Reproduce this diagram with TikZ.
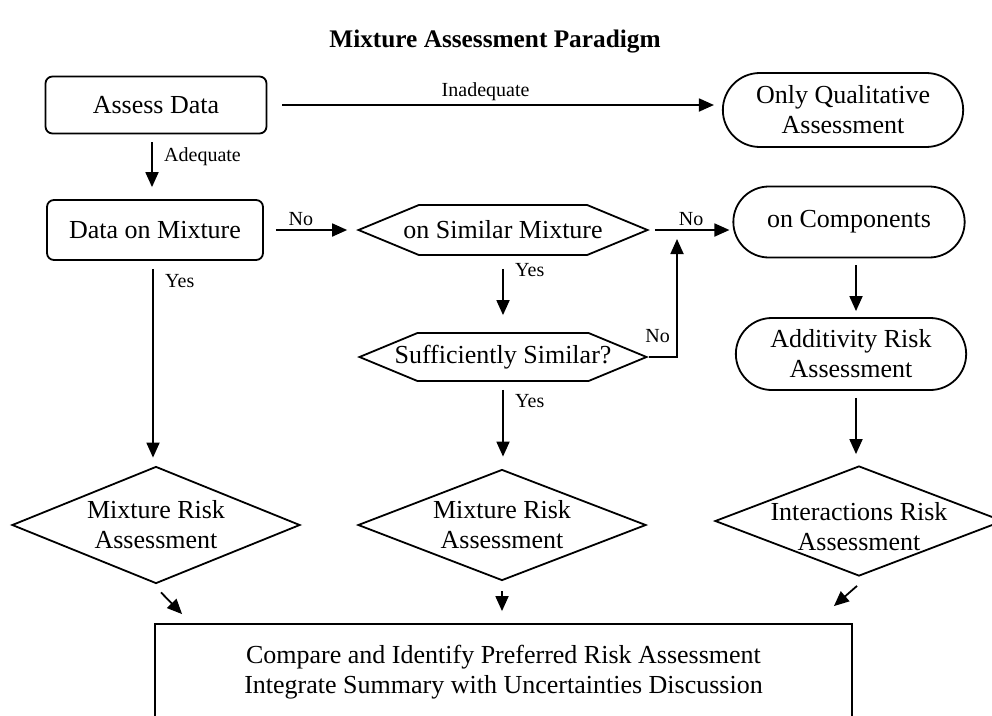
\documentclass[tikz,border=0pt]{standalone}
\usepackage{fontspec}
\setmainfont{Liberation Serif}
\usetikzlibrary{shapes.geometric, shapes.misc, shapes.symbols, arrows.meta}

\begin{document}
\begin{tikzpicture}[x=1pt, y=-1pt, line width=1.8pt,
  every node/.style={font=\fontsize{26}{30}\selectfont, align=center},
  box/.style={draw, rectangle, rounded corners=7pt},
  stadium/.style={draw, rounded rectangle},
  hexa/.style={draw, signal, signal to=west and east, signal pointer angle=45, inner sep=0pt},
  decision/.style={draw, diamond, inner sep=0pt},
  lbl/.style={font=\fontsize{20}{24}\selectfont},
  side/.style={lbl, right, xshift=8pt},
  arr/.style={-{Triangle[length=15pt, width=13pt]}}]

  \useasboundingbox (0,0) rectangle (992,715);
  \clip (0,0) rectangle (992,715);

  \node[font=\bfseries\fontsize{25.3}{30}\selectfont] (title) at (495,42) {Mixture Assessment Paradigm};

  % first row
  \node[box, minimum width=221pt, minimum height=57pt] (assess) at (156,105) {Assess Data};
  \node[stadium, minimum width=247pt, minimum height=74pt] (qual) at (843,110) {Only Qualitative\\Assessment};

  % second row
  \node[box, minimum width=216pt, minimum height=60pt] (datamix) at (155,230) {Data on Mixture};
  \node[hexa, minimum width=289pt, minimum height=50pt,
    label={center:on Similar Mixture}] (sim) at (503,230) {};
  \node[stadium, minimum width=238pt, minimum height=71pt] (comp) at (849,222) {on Components};

  % third row
  \node[hexa, minimum width=287pt, minimum height=48pt,
    label={center:Sufficiently Similar?}] (suff) at (503,357) {};
  \node[stadium, minimum width=237pt, minimum height=72pt] (addit) at (851,354) {Additivity Risk\\Assessment};

  % risk assessments
  \node[decision, minimum width=288pt, minimum height=117pt,
    label={center:Mixture Risk\\Assessment}] (mixA) at (156,525) {};
  \node[decision, minimum width=288pt, minimum height=111pt,
    label={center:Mixture Risk\\Assessment}] (mixB) at (502,525) {};
  \node[decision, minimum width=288pt, minimum height=110pt,
    label={[yshift=-6pt]center:Interactions Risk\\Assessment}] (inter) at (859,521) {};

  \node[draw, minimum width=697pt, minimum height=116pt,
    label={[yshift=10pt]center:Compare and Identify Preferred Risk Assessment\\Integrate Summary with Uncertainties Discussion}] (final) at (503.5,682) {};

  \coordinate (join) at (677,230);

  % connectors
  \draw[arr, shorten <=15pt, shorten >=8pt] (assess) -- node[lbl, above, pos=0.48] {Inadequate} (qual.west |- assess);
  \draw[arr, shorten <=8pt, shorten >=12pt] ([xshift=-4pt]assess.south) -- node[side, pos=0.35] {Adequate} ([xshift=-4pt]assess.south |- datamix.north);
  \draw[arr, shorten <=12pt, shorten >=9pt] (datamix) -- node[lbl, above, pos=0.4] {No} (sim);
  \draw[arr, shorten <=5pt, shorten >=3pt] (sim.east) -- node[lbl, above] {No} (sim.east -| comp.west);
  \draw[arr, shorten <=7pt, shorten >=6pt] ([xshift=7pt]comp.south) -- ([xshift=7pt]comp.south |- addit.north);
  \draw[arr, shorten <=7pt, shorten >=11pt] ([xshift=5pt]addit.south) -- ([xshift=5pt]addit.south |- inter.north);
  \draw[arr, shorten <=8pt, shorten >=8pt] ([xshift=-2pt]datamix.south) -- node[side, pos=0.1] {Yes} ([xshift=-2pt]datamix.south |- mixA.north);
  \draw[arr, shorten <=13pt, shorten >=17pt] (sim.south) -- node[side, pos=0.19] {Yes} (sim.south |- suff.north);
  \draw[arr, shorten <=8pt, shorten >=12pt] (suff.south) -- node[side, pos=0.22] {Yes} (suff.south |- mixB.north);
  \draw[arr, shorten >=9pt] (suff.east) -| node[lbl, pos=0.5, above left, xshift=-3pt, yshift=10pt] {No} (join);
  \draw[arr] ([shift={(5,8)}]mixA.south) -- ([shift={(28,-9)}]final.north west);
  \draw[arr, shorten <=10pt, shorten >=12pt] (mixB.south) -- (mixB.south |- final.north);
  \draw[arr] ([shift={(-2,9)}]inter.south) -- ([shift={(-19,-17)}]final.north east);
\end{tikzpicture}
\end{document}
